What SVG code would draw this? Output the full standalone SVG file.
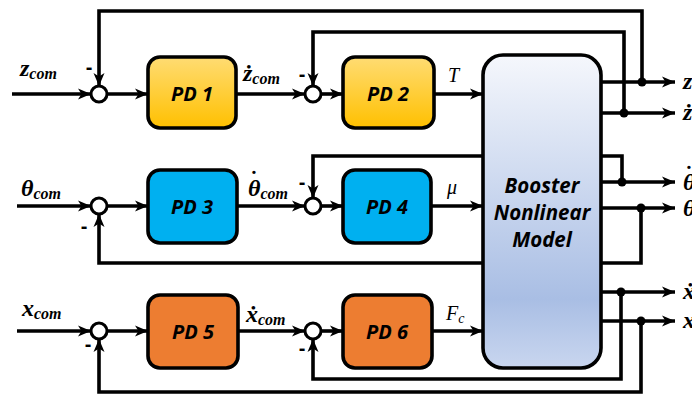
<svg xmlns="http://www.w3.org/2000/svg" width="692" height="394" viewBox="0 0 692 394">
<defs>
<linearGradient id="gY" x1="0" y1="0" x2="0" y2="1"><stop offset="0" stop-color="#FFDC73"/><stop offset="1" stop-color="#FFC000"/></linearGradient>
<linearGradient id="gB" x1="0" y1="0" x2="0" y2="1"><stop offset="0" stop-color="#F5F7FC"/><stop offset="0.78" stop-color="#A9BEE4"/><stop offset="1" stop-color="#C9D6EF"/></linearGradient>
<marker id="ar" markerUnits="userSpaceOnUse" markerWidth="14" markerHeight="12" refX="13" refY="6" orient="auto"><path d="M0,0.5 L13,6 L0,11.5 L3.5,6 z" fill="#000"/></marker>
<style>
.w{fill:none;stroke:#000;stroke-width:3.6}
.a{marker-end:url(#ar)}
.box{stroke:#000;stroke-width:3.6}
.pd{font-family:"Open Sans","Liberation Sans",sans-serif;font-weight:bold;font-style:italic;font-size:20px;text-anchor:middle}
.bm{font-size:20.5px}
.m{font-family:"Liberation Serif","DejaVu Serif",serif;font-weight:bold;font-style:italic;font-size:24px}
.s{font-size:16px}
.dot{font-family:"Liberation Serif","DejaVu Serif",serif;font-weight:bold;font-size:22px;text-anchor:middle}
.mi{font-family:"Liberation Serif",serif;font-style:italic;font-size:20px}
.neg{font-family:"Liberation Sans",sans-serif;font-weight:bold;font-size:20px;text-anchor:middle}
.sum{fill:#fff;stroke:#000;stroke-width:3}
</style>
</defs>
<rect width="692" height="394" fill="#fff"/>
<g id="connectors">
<path class="w a" d="M12,94 H91"/>
<path class="w a" d="M107,94 H148"/>
<path class="w a" d="M236,94 H305"/>
<path class="w a" d="M321,94 H343"/>
<path class="w a" d="M434,94 H483"/>
<path class="w a" d="M601,82 H675"/>
<path class="w a" d="M601,113 H675"/>
<path class="w a" d="M642,82 V11 H99 V86"/>
<path class="w a" d="M624,113 V32 H313 V86"/>
<path class="w a" d="M17,206 H91"/>
<path class="w a" d="M107,206 H148"/>
<path class="w a" d="M237,206 H305"/>
<path class="w a" d="M321,206 H343"/>
<path class="w a" d="M431,206 H483"/>
<path class="w a" d="M601,182 H675"/>
<path class="w a" d="M601,208 H675"/>
<path class="w a" d="M622,182 V156 H313 V198"/>
<path class="w a" d="M641,208 V263 H99 V214"/>
<path class="w a" d="M17,331 H91"/>
<path class="w a" d="M107,331 H148"/>
<path class="w a" d="M238,331 H305"/>
<path class="w a" d="M321,331 H343"/>
<path class="w a" d="M432,331 H483"/>
<path class="w a" d="M601,292 H675"/>
<path class="w a" d="M601,321 H675"/>
<path class="w a" d="M621,292 V379 H313 V339"/>
<path class="w a" d="M641,321 V392 H99 V339"/>
<circle cx="642" cy="82" r="4.5"/>
<circle cx="624" cy="113" r="4.5"/>
<circle cx="622" cy="182" r="4.5"/>
<circle cx="641" cy="208" r="4.5"/>
<circle cx="621" cy="292" r="4.5"/>
<circle cx="641" cy="321" r="4.5"/>
</g>
<g id="sum1"><circle class="sum" cx="99" cy="94" r="8"/><text class="neg" x="89" y="74">-</text></g>
<g id="sum2"><circle class="sum" cx="313" cy="94" r="8"/><text class="neg" x="302" y="81">-</text></g>
<g id="sum3"><circle class="sum" cx="99" cy="206" r="8"/><text class="neg" x="84" y="233">-</text></g>
<g id="sum4"><circle class="sum" cx="313" cy="206" r="8"/><text class="neg" x="302" y="189">-</text></g>
<g id="sum5"><circle class="sum" cx="99" cy="331" r="8"/><text class="neg" x="88" y="351">-</text></g>
<g id="sum6"><circle class="sum" cx="313" cy="331" r="8"/><text class="neg" x="302" y="355">-</text></g>
<g id="pd1"><rect class="box" x="148" y="57" width="88" height="71" rx="12" fill="url(#gY)"/><text class="pd" x="192" y="101">PD 1</text></g>
<g id="pd2"><rect class="box" x="343" y="57" width="91" height="71" rx="12" fill="url(#gY)"/><text class="pd" x="388" y="101">PD 2</text></g>
<g id="pd3"><rect class="box" x="148" y="170" width="89" height="73" rx="12" fill="#00B0F0"/><text class="pd" x="192" y="214">PD 3</text></g>
<g id="pd4"><rect class="box" x="343" y="170" width="88" height="73" rx="12" fill="#00B0F0"/><text class="pd" x="387" y="214">PD 4</text></g>
<g id="pd5"><rect class="box" x="148" y="295" width="90" height="73" rx="12" fill="#ED7D31"/><text class="pd" x="193" y="339">PD 5</text></g>
<g id="pd6"><rect class="box" x="343" y="295" width="89" height="73" rx="12" fill="#ED7D31"/><text class="pd" x="387" y="339">PD 6</text></g>
<g id="booster"><rect class="box" x="483" y="55" width="118" height="313" rx="20" fill="url(#gB)"/>
<text class="pd bm" x="542" y="193">Booster</text>
<text class="pd bm" x="542" y="220">Nonlinear</text>
<text class="pd bm" x="542" y="247">Model</text></g>
<g id="labels">
<text class="m" x="20" y="76">z<tspan class="s" dy="3">com</tspan></text>
<text class="m" x="243" y="81">ż<tspan class="s" dy="3">com</tspan></text>
<text class="m" x="21" y="196">θ<tspan class="s" dy="3">com</tspan></text>
<text class="m" x="248" y="196">θ<tspan class="s" dy="3">com</tspan></text>
<text class="dot" x="254" y="186">˙</text>
<text class="m" x="22" y="316">x<tspan class="s" dy="3">com</tspan></text>
<text class="m" x="246" y="322">ẋ<tspan class="s" dy="3">com</tspan></text>
<text class="mi" x="448" y="82">T</text>
<text class="mi" x="447" y="194">μ</text>
<text class="mi" x="446" y="320">F<tspan font-size="14" dy="3">c</tspan></text>
<text class="m" x="683" y="89">z</text>
<text class="m" x="683" y="120">ż</text>
<text class="m" x="683" y="190">θ</text>
<text class="dot" x="689" y="181">˙</text>
<text class="m" x="683" y="216">θ</text>
<text class="m" x="683" y="299">ẋ</text>
<text class="m" x="683" y="328">x</text>
</g>
</svg>
